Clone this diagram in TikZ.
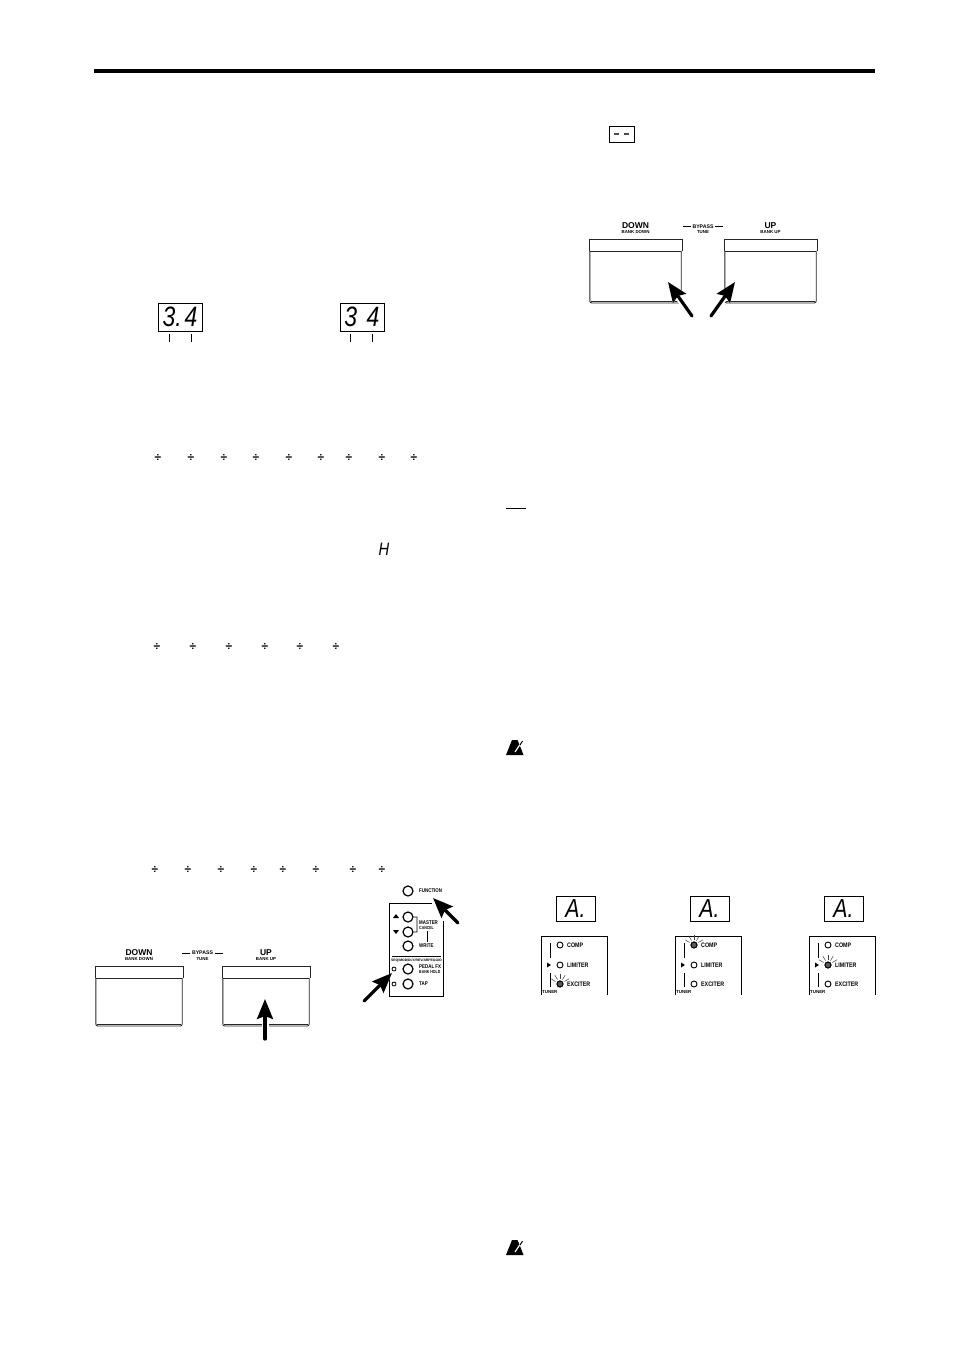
\documentclass[tikz,border=0pt]{standalone}
\usepackage{fontspec}
\setmainfont{Liberation Sans}
\newfontfamily\condfont[FakeStretch=.82]{Liberation Sans}
\usetikzlibrary{arrows.meta}
\usetikzlibrary{positioning}

% one footswitch: x, y of top left corner, width, bottom y, and its two labels
\newcommand{\footswitch}[6]{
  \draw [pedalline] (#1, #2+12) -- (#1, #2) -- (#1+#3, #2) -- (#1+#3, #2+12) ;
  \draw [pedalline, rounded corners=2] (#1+.8, #2+12) -- (#1+.8, #4) -- (#1+#3-.8, #4) -- (#1+#3-.8, #2+12) ;
  \draw [pedalline, line width=1.1] (#1+2, #4-1.4) -- (#1+#3-2, #4-1.4) ;
  \draw [pedalline] (#1+.8, #2+12) -- (#1+#3-.8, #2+12) ;
  \node [biglabel] (#5) at (#1+#3/2, #2-13.5) {#5} ;
  \node [tinylabel] (#5sub) at (#1+#3/2, #2-7) {#6} ;
}
% the BYPASS TUNE label between two footswitches
\newcommand{\bypass}[3]{
  \node [midlabel] (#3) at (#1, #2) {BYPASS} ;
  \node [tinylabel] (#3tune) at (#1, #2+5.5) {TUNE} ;
  \draw [line width=.8] (#3.west) -- +(-8, 0) ;
  \draw [line width=.8] (#3.east) -- +(8, 0) ;
}
% the led panel with its display above: left x, name, y of the lit led
\newcommand{\ledpanel}[3]{
  \node [display, minimum width=39, minimum height=25, font=\fontsize{26}{26}\condfont\itshape] (disp#2) at (#1+34.5, 908.5) {A.\hspace{11pt}} ;
  \draw [panelline] (#1, 995) -- (#1, 936) -- (#1+66, 936) -- (#1+66, 995) ;
  \draw [panelline] (#1+9, 943) -- (#1+9, 958) ;
  \draw [panelline] (#1+9, 973) -- (#1+9, 987) ;
  \fill (#1+6, 962.5) -- (#1+10, 965) -- (#1+6, 967.5) -- cycle ;
  \node [led] (comp#2) at (#1+19, 945) {} ;
  \node [led] (limiter#2) at (#1+19, 965) {} ;
  \node [led] (exciter#2) at (#1+19, 984) {} ;
  \node [panellabel, right=3.5 of comp#2] {COMP} ;
  \node [panellabel, right=3.5 of limiter#2] {LIMITER} ;
  \node [panellabel, right=3.5 of exciter#2] {EXCITER} ;
  \node [tinylabel, anchor=west, inner sep=0] (tuner#2) at (#1+1, 992) {TUNER} ;
  \node [led, fill=black!65] (lit#2) at (#1+19, #3) {} ;
  \foreach \ang in {-30, -60, -90, -120, -150}
    \draw [line width=.5, black!75] (lit#2) ++(\ang:5) -- ++(\ang:5.5) ;
}

\tikzset{
  pedalline/.style ={line width=.9, black!85},
  panelline/.style ={line width=1, black},
  biglabel/.style  ={font=\fontsize{8.5}{8.5}\selectfont\bfseries, inner sep=0},
  midlabel/.style  ={font=\fontsize{5.2}{5.2}\selectfont\bfseries, inner sep=1.5},
  tinylabel/.style ={font=\fontsize{4.4}{4.4}\selectfont\bfseries, inner sep=0},
  panellabel/.style={font=\fontsize{6.5}{6.5}\condfont\bfseries, inner sep=0},
  smalllabel/.style={font=\fontsize{5.4}{5.4}\condfont\bfseries, inner sep=0, anchor=west},
  subtext/.style   ={font=\fontsize{4.3}{4.3}\condfont\bfseries, inner sep=0, anchor=west},
  display/.style   ={rectangle, draw, line width=1, inner sep=0, font=\fontsize{28}{28}\condfont\itshape},
  led/.style       ={circle, draw, line width=.9, fill=white, minimum size=6, inner sep=0},
  knob/.style      ={circle, draw, line width=1.2, fill=white, minimum size=10, inner sep=0},
  smallled/.style  ={circle, draw, line width=.8, fill=white, minimum size=4, inner sep=0},
  pointer/.style   ={-{Stealth[length=20, width=16, inset=3]}, line width=3.2, line cap=round, preaction={draw=white, line width=7}},
  divsign/.style   ={font=\fontsize{12}{12}\selectfont\bfseries, inner sep=0, anchor=base},
  ticksign/.style  ={line width=.8}
}

\begin{document}
\begin{tikzpicture}[x=1pt, y=-1pt]
    \useasboundingbox [fill=white] (0, 0) rectangle (954, 1348) ;

    \draw [line width=4] (94, 71) -- (875, 71) ;

    % displays, upper left
    \node [display, minimum width=44, minimum height=28] (dispa) at (180, 317) {3.\hspace{3pt}4} ;
    \node [display, minimum width=44, minimum height=28] (dispb) at (362, 317) {3\hspace{9.5pt}4} ;
    \foreach \tick in {169.5, 191, 350.5, 372.5}
      \draw [ticksign] (\tick, 334) -- (\tick, 342) ;

    % rows of division signs
    \foreach \xpos [count=\i] in {158, 191, 224, 256, 289, 321, 349, 382, 414}
      \node [divsign] (diva\i) at (\xpos, 461) {÷} ;
    \foreach \xpos [count=\i] in {157, 193, 229, 265, 300, 336}
      \node [divsign] (divb\i) at (\xpos, 650) {÷} ;
    \foreach \xpos [count=\i] in {155, 188, 221, 254, 283, 316, 353, 382}
      \node [divsign] (divc\i) at (\xpos, 873) {÷} ;

    \node [font=\fontsize{18}{18}\condfont\itshape, inner sep=0] (hold) at (384, 549.5) {H} ;

    % upper right
    \node [rectangle, draw, line width=1, minimum width=25, minimum height=16, inner sep=0] (dashes) at (621.5, 135) {} ;
    \draw [line width=1.4, black!70] (614, 134) -- (619, 134) ;
    \draw [line width=1.4, black!70] (624, 134) -- (629, 134) ;

    \footswitch{589}{239}{93}{303}{DOWN}{BANK DOWN}
    \footswitch{724}{239}{93}{303}{UP}{BANK UP}
    \bypass{703}{226.5}{upper}
    \coordinate (tipa) at (668, 282) ;
    \coordinate (tipb) at (735, 282) ;
    \coordinate (taila) at (692, 316) ;
    \coordinate (tailb) at (711, 316) ;
    \draw [pointer] (taila) -- (tipa) ;
    \draw [pointer] (tailb) -- (tipb) ;

    % short rule and the two note marks
    \draw [line width=1] (506, 508) -- (526, 508) ;
    \foreach \ypos in {740, 1240} {
      \fill (506, \ypos+15) -- (512, \ypos) -- (517.5, \ypos) -- (520, \ypos+6) -- (523.5, \ypos+15) -- cycle ;
      \draw [white, line width=1.2] (515, \ypos+12) -- (521, \ypos+3) ;
      \draw [line width=1] (520, \ypos+5) -- (522.5, \ypos+1) ;
    }

    % lower left
    \footswitch{95}{966}{88}{1026}{DOWN}{BANK DOWN}
    \footswitch{222}{966}{88}{1026}{UP}{BANK UP}
    \bypass{202.5}{953}{lower}

    % control panel
    \draw [panelline] (432, 903) -- (389, 903) -- (389, 996) -- (443, 996) -- (443, 921) ;
    \node [knob] (function) at (408, 891) {} ;
    \node [knob] (upbtn) at (408, 917) {} ;
    \node [knob] (downbtn) at (408, 932) {} ;
    \node [knob] (write) at (408, 946) {} ;
    \node [knob] (pedalfx) at (408, 969) {} ;
    \node [knob] (tap) at (408, 984) {} ;
    \node [smallled] (ledfx) at (394, 969) {} ;
    \node [smallled] (ledtap) at (394, 984) {} ;
    \fill (393, 918) -- (396, 914) -- (399, 918) -- cycle ;
    \fill (393, 930) -- (396, 934) -- (399, 930) -- cycle ;
    \draw [line width=.7] (upbtn.east) -- +(3.5, 0) -- (417, 932) -- (downbtn.east) ;
    \node [smalllabel] (functext) at (419, 891) {FUNCTION} ;
    \node [smalllabel] (master) at (419, 922.5) {MASTER} ;
    \node [subtext] (cancel) at (419, 928) {CANCEL} ;
    \node [smalllabel] (writetext) at (419, 946) {WRITE} ;
    \draw [line width=.7] (427, 931) -- (427, 942) ;
    \draw [line width=.8] (392, 956) -- (441, 956) ;
    \node [tinylabel, font=\fontsize{3.4}{3.4}\selectfont\bfseries] (modes) at (416.5, 960.5) {SEQ/MOD/DLY/REV/ARPEGGIO} ;
    \node [smalllabel] (fxtext) at (419, 966.5) {PEDAL FX} ;
    \node [subtext] (holdtext) at (419, 972) {BANK HOLD} ;
    \node [smalllabel] (taptext) at (419, 984) {TAP} ;

    \coordinate (tipc) at (265, 999) ;
    \coordinate (tailc) at (265, 1039) ;
    \coordinate (tipd) at (433, 898) ;
    \coordinate (taild) at (458, 923) ;
    \coordinate (tipe) at (392, 973) ;
    \coordinate (taile) at (364, 1001) ;
    \draw [pointer] (tailc) -- (tipc) ;
    \draw [pointer] (taild) -- (tipd) ;
    \draw [pointer] (taile) -- (tipe) ;

    % lower right
    \ledpanel{541}{one}{984}
    \ledpanel{675}{two}{945}
    \ledpanel{809}{three}{965}
\end{tikzpicture}
\end{document}
